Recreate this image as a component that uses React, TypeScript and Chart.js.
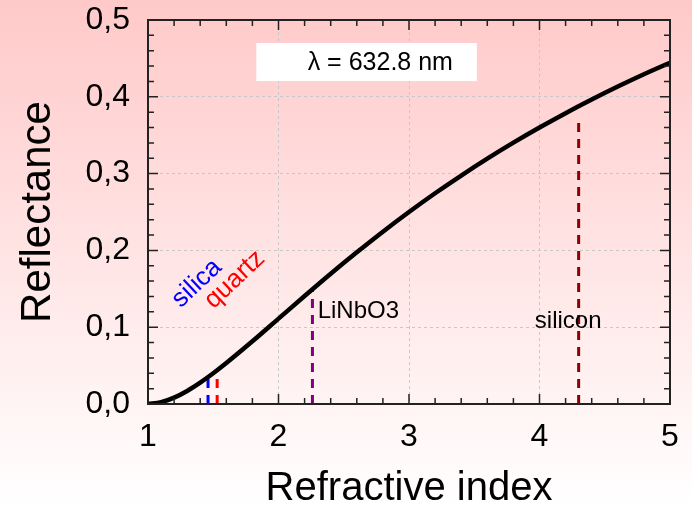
import React, { useEffect, useRef } from "react";
import { Chart, registerables } from "chart.js";

Chart.register(...registerables);

// Reflectance at normal incidence versus refractive index
const indexValues = [1.0, 1.1, 1.2, 1.3, 1.4, 1.5, 1.6, 1.8, 2.0, 2.2, 2.4, 2.6, 2.8, 3.0, 3.2, 3.4, 3.6, 3.8, 4.0, 4.2, 4.4, 4.6, 4.8, 5.0];
const reflectanceValues = [0.0, 0.0023, 0.0083, 0.017, 0.0278, 0.04, 0.0533, 0.0816, 0.1111, 0.1406, 0.1696, 0.1975, 0.2244, 0.25, 0.2744, 0.2975, 0.3195, 0.3403, 0.36, 0.3787, 0.3964, 0.4133, 0.4293, 0.4444];

// Materials marked on the curve
const materialNames = ["silica", "quartz", "LiNbO3", "silicon"];
const materialIndex = [1.46, 1.53, 2.26, 4.3];
const materialReflectance = [0.035, 0.043, 0.148, 0.372];
const materialColors = ["#0000ff", "#ff0000", "#800080", "#8b0000"];

const xTickValues = [1, 2, 3, 4, 5];
const yTickValues = [0, 0.1, 0.2, 0.3, 0.4, 0.5];
const wavelengthLabel = "λ = 632.8 nm";

const FONT = "'Liberation Sans', Arial, sans-serif";

const decorPlugin = {
  id: "decor",
  beforeDraw(chart: any) {
    const { ctx, width, height } = chart;
    const g = ctx.createLinearGradient(0, 0, 0, height);
    g.addColorStop(0, "#ffc9c9");
    g.addColorStop(1, "#ffffff");
    ctx.save();
    ctx.fillStyle = g;
    ctx.fillRect(0, 0, width, height);
    ctx.restore();
  },
  afterDatasetsDraw(chart: any) {
    const { ctx, chartArea: a } = chart;
    const xs = chart.scales.x;
    const ys = chart.scales.y;
    ctx.save();

    // wavelength box
    const bx0 = xs.getPixelForValue(1.83);
    const bx1 = xs.getPixelForValue(3.52);
    const by0 = ys.getPixelForValue(0.47);
    const by1 = ys.getPixelForValue(0.4205);
    ctx.fillStyle = "#ffffff";
    ctx.fillRect(bx0, by0, bx1 - bx0, by1 - by0);
    ctx.fillStyle = "#000000";
    ctx.font = `25px ${FONT}`;
    ctx.textAlign = "center";
    ctx.textBaseline = "middle";
    ctx.fillText(wavelengthLabel, xs.getPixelForValue(2.78), (by0 + by1) / 2 + 1);

    // material labels
    ctx.font = `26px ${FONT}`;
    const rotated = (text: string, color: string, n: number, r: number) => {
      ctx.save();
      ctx.translate(xs.getPixelForValue(n), ys.getPixelForValue(r));
      ctx.rotate(-Math.PI / 4.15);
      ctx.fillStyle = color;
      ctx.textAlign = "center";
      ctx.textBaseline = "middle";
      ctx.fillText(text, 0, 0);
      ctx.restore();
    };
    rotated(materialNames[0], materialColors[0], 1.375, 0.157);
    rotated(materialNames[1], materialColors[1], 1.665, 0.162);
    ctx.font = `24px ${FONT}`;
    ctx.fillStyle = "#000000";
    ctx.textAlign = "left";
    ctx.textBaseline = "middle";
    ctx.fillText(materialNames[2], xs.getPixelForValue(2.3), ys.getPixelForValue(0.12));
    ctx.textAlign = "center";
    ctx.fillText(materialNames[3], xs.getPixelForValue(4.22), ys.getPixelForValue(0.107));

    // frame
    ctx.strokeStyle = "#222222";
    ctx.lineWidth = 2;
    ctx.strokeRect(a.left, a.top, a.right - a.left, a.bottom - a.top);

    // inward ticks on all four sides
    ctx.lineWidth = 1.5;
    ctx.beginPath();
    for (let i = 0; i <= 20; i++) {
      const v = 1 + i * 0.2;
      const px = xs.getPixelForValue(v);
      const len = i % 5 === 0 ? 10 : 6;
      ctx.moveTo(px, a.bottom);
      ctx.lineTo(px, a.bottom - len);
      ctx.moveTo(px, a.top);
      ctx.lineTo(px, a.top + len);
    }
    for (let i = 0; i <= 25; i++) {
      const v = i * 0.02;
      const py = ys.getPixelForValue(v);
      const len = i % 5 === 0 ? 10 : 6;
      ctx.moveTo(a.left, py);
      ctx.lineTo(a.left + len, py);
      ctx.moveTo(a.right, py);
      ctx.lineTo(a.right - len, py);
    }
    ctx.stroke();
    ctx.restore();
  },
};

export default function App() {
  const canvasRef = useRef<HTMLCanvasElement | null>(null);

  useEffect(() => {
    document.body.style.margin = "0";
    const canvas = canvasRef.current;
    if (!canvas) return;

    const curve = indexValues.map((n, i) => ({ x: n, y: reflectanceValues[i] }));
    const markerSets = materialNames.map((name, i) => ({
      label: name,
      data: [
        { x: materialIndex[i], y: 0 },
        { x: materialIndex[i], y: materialReflectance[i] },
      ],
      borderColor: materialColors[i],
      borderWidth: 3,
      borderDash: [9, 7],
      pointRadius: 0,
      fill: false,
    }));

    const chart = new Chart(canvas, {
      type: "line",
      data: {
        datasets: [
          {
            label: "Reflectance",
            data: curve,
            borderColor: "#000000",
            borderWidth: 4.5,
            pointRadius: 0,
            cubicInterpolationMode: "monotone",
            fill: false,
          },
          ...markerSets,
        ],
      },
      options: {
        responsive: false,
        animation: false,
        events: [],
        layout: { padding: { left: 0, right: 22, top: 20, bottom: 0 } },
        plugins: { legend: { display: false }, tooltip: { enabled: false } },
        scales: {
          x: {
            type: "linear",
            min: 1,
            max: 5,
            afterFit(scale: any) {
              scale.height = 102;
              scale.paddingLeft = 0;
              scale.paddingRight = 0;
            },
            afterBuildTicks(scale: any) {
              scale.ticks = xTickValues.map((v) => ({ value: v }));
            },
            ticks: {
              color: "#000000",
              padding: 14,
              maxRotation: 0,
              font: { family: FONT, size: 32 },
              callback: (v: any) => String(v),
            },
            grid: { color: "#c8c8c8", lineWidth: 1, drawTicks: false },
            border: { display: false, dash: [3, 3] },
            title: {
              display: true,
              text: "Refractive index",
              color: "#000000",
              font: { family: FONT, size: 40, lineHeight: 0.8 },
              padding: { top: 0, bottom: 1 },
            },
          },
          y: {
            type: "linear",
            min: 0,
            max: 0.5,
            afterFit(scale: any) {
              scale.width = 148;
              scale.paddingTop = 0;
              scale.paddingBottom = 0;
            },
            afterBuildTicks(scale: any) {
              scale.ticks = yTickValues.map((v) => ({ value: v }));
            },
            ticks: {
              color: "#000000",
              padding: 18,
              font: { family: FONT, size: 32 },
              callback: (v: any) => Number(v).toFixed(1).replace(".", ","),
            },
            grid: { color: "#c8c8c8", lineWidth: 1, drawTicks: false },
            border: { display: false, dash: [3, 3] },
            title: {
              display: true,
              text: "Reflectance",
              color: "#000000",
              font: { family: FONT, size: 42, lineHeight: 1 },
              padding: { top: 17, bottom: 0 },
            },
          },
        },
      },
      plugins: [decorPlugin],
    } as any);

    return () => chart.destroy();
  }, []);

  return (
    <div style={{ position: "absolute", left: 0, top: 0, width: 692, height: 506 }}>
      <canvas ref={canvasRef} width={692} height={506} />
    </div>
  );
}
